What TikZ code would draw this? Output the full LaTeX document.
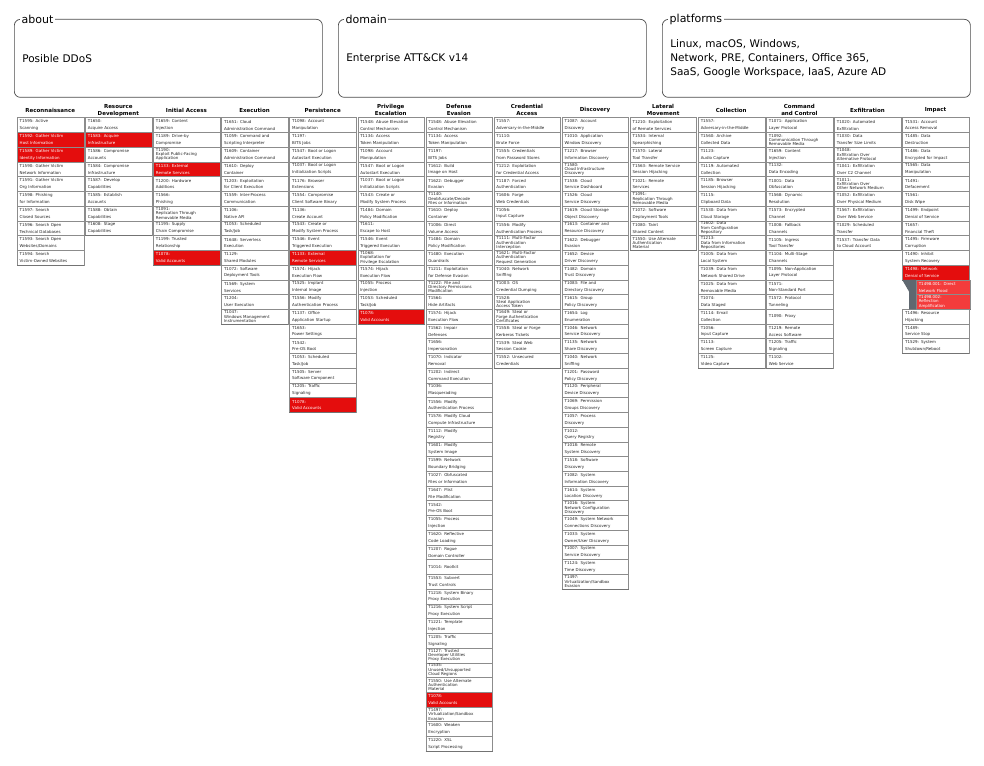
\documentclass[tikz,border=0pt]{standalone}
\usepackage{fontspec}
\setmainfont{DejaVu Sans}
\usetikzlibrary{calc}
\definecolor{attred}{RGB}{228,13,13}
\definecolor{subred}{RGB}{244,60,60}
\definecolor{sidebar}{RGB}{95,104,112}
\newcount\colc
\newcount\rowc
\tikzset{
 tcell/.style={draw=black!45, line width=0.5pt, anchor=north west, minimum height=14.73pt, text width=61.5pt, inner xsep=2.5pt, inner ysep=0pt, align=left, text=black!85, font=\fontsize{4}{6.8}\selectfont},
 cst-w/.style={fill=white},
 cst-r/.style={fill=attred, text=white},
 cst-t/.style={fill=white, font=\fontsize{4}{4.3}\selectfont},
 cst-T/.style={fill=attred, text=white, font=\fontsize{4}{4.3}\selectfont},
 cst-s/.style={fill=subred, text=white, text width=49.3pt, xshift=13.7pt},
 cst-u/.style={cst-s, font=\fontsize{4}{4.3}\selectfont},
 sepline/.style={draw=black!55, line width=1pt},
 hdr/.style={font=\bfseries\fontsize{5.5}{7}\selectfont, align=center, text=black, inner sep=0pt},
 topbox/.style={draw=black!70, line width=0.7pt, rounded corners=6pt, anchor=north west, minimum width=308pt, minimum height=78pt, text width=292pt, inner xsep=8pt, align=left, font=\fontsize{10.5}{14}\selectfont},
 toptitle/.style={fill=white, anchor=west, inner xsep=1.5pt, inner ysep=1pt, font=\fontsize{11}{13}\selectfont},
}
\newcommand\startcol[1]{%
  \global\advance\colc by 1
  \global\rowc=0
  \pgfmathsetmacro\tmpx{17+68.1*(\the\colc-1)}%
  \xdef\cx{\tmpx}%
  \pgfmathsetmacro\tmpc{\cx+33.25}%
  \edef\nm{hd\the\colc}%
  \node[hdr] (\nm) at (\tmpc,110.3) {#1};%
}
\newcommand\tc[2][w]{%
  \global\advance\rowc by 1
  \pgfmathsetmacro\cy{117.5+14.73*(\the\rowc-1)}%
  \edef\nm{t\the\colc-\the\rowc}%
  \node[tcell,cst-#1] (\nm) at (\cx,\cy) {#2};%
  \draw[sepline] (\nm.south west) -- (\nm.south east);%
}
\begin{document}
\begin{tikzpicture}[x=1pt,y=-1pt]
\useasboundingbox[fill=white] (0,0) rectangle (984,765);
% top boxes
\node[topbox] (about) at (14,19) {Posible DDoS};
\node[toptitle] (aboutt) at ([xshift=6pt]about.north west) {about};
\node[topbox] (domain) at (338,19) {Enterprise ATT\&CK v14};
\node[toptitle] (domaint) at ([xshift=6pt]domain.north west) {domain};
\node[topbox] (platf) at (662,19) {Linux, macOS, Windows,\\Network, PRE, Containers, Office 365,\\SaaS, Google Workspace, IaaS, Azure AD};
\node[toptitle] (platft) at ([xshift=6pt]platf.north west) {platforms};
% 1
\startcol{Reconnaissance}
\tc{T1595: Active\\Scanning}
\tc[r]{T1592: Gather Victim\\Host Information}
\tc[r]{T1589: Gather Victim\\Identity Information}
\tc{T1590: Gather Victim\\Network Information}
\tc{T1591: Gather Victim\\Org Information}
\tc{T1598: Phishing\\for Information}
\tc{T1597: Search\\Closed Sources}
\tc{T1596: Search Open\\Technical Databases}
\tc{T1593: Search Open\\Websites/Domains}
\tc{T1594: Search\\Victim-Owned Websites}
% 2
\startcol{Resource\\Development}
\tc{T1650:\\Acquire Access}
\tc[r]{T1583: Acquire\\Infrastructure}
\tc{T1586: Compromise\\Accounts}
\tc{T1584: Compromise\\Infrastructure}
\tc{T1587: Develop\\Capabilities}
\tc{T1585: Establish\\Accounts}
\tc{T1588: Obtain\\Capabilities}
\tc{T1608: Stage\\Capabilities}
% 3
\startcol{Initial Access}
\tc{T1659: Content\\Injection}
\tc{T1189: Drive-by\\Compromise}
\tc[t]{T1190:\\Exploit Public-Facing\\Application}
\tc[r]{T1133: External\\Remote Services}
\tc{T1200: Hardware\\Additions}
\tc{T1566:\\Phishing}
\tc[t]{T1091:\\Replication Through\\Removable Media}
\tc{T1195: Supply\\Chain Compromise}
\tc{T1199: Trusted\\Relationship}
\tc[r]{T1078:\\Valid Accounts}
% 4
\startcol{Execution}
\tc{T1651: Cloud\\Administration Command}
\tc{T1059: Command and\\Scripting Interpreter}
\tc{T1609: Container\\Administration Command}
\tc{T1610: Deploy\\Container}
\tc{T1203: Exploitation\\for Client Execution}
\tc{T1559: Inter-Process\\Communication}
\tc{T1106:\\Native API}
\tc{T1053: Scheduled\\Task/Job}
\tc{T1648: Serverless\\Execution}
\tc{T1129:\\Shared Modules}
\tc{T1072: Software\\Deployment Tools}
\tc{T1569: System\\Services}
\tc{T1204:\\User Execution}
\tc[t]{T1047:\\Windows Management\\Instrumentation}
% 5
\startcol{Persistence}
\tc{T1098: Account\\Manipulation}
\tc{T1197:\\BITS Jobs}
\tc{T1547: Boot or Logon\\Autostart Execution}
\tc{T1037: Boot or Logon\\Initialization Scripts}
\tc{T1176: Browser\\Extensions}
\tc{T1554: Compromise\\Client Software Binary}
\tc{T1136:\\Create Account}
\tc{T1543: Create or\\Modify System Process}
\tc{T1546: Event\\Triggered Execution}
\tc[r]{T1133: External\\Remote Services}
\tc{T1574: Hijack\\Execution Flow}
\tc{T1525: Implant\\Internal Image}
\tc{T1556: Modify\\Authentication Process}
\tc{T1137: Office\\Application Startup}
\tc{T1653:\\Power Settings}
\tc{T1542:\\Pre-OS Boot}
\tc{T1053: Scheduled\\Task/Job}
\tc{T1505: Server\\Software Component}
\tc{T1205: Traffic\\Signaling}
\tc[r]{T1078:\\Valid Accounts}
% 6
\startcol{Privilege\\Escalation}
\tc{T1548: Abuse Elevation\\Control Mechanism}
\tc{T1134: Access\\Token Manipulation}
\tc{T1098: Account\\Manipulation}
\tc{T1547: Boot or Logon\\Autostart Execution}
\tc{T1037: Boot or Logon\\Initialization Scripts}
\tc{T1543: Create or\\Modify System Process}
\tc{T1484: Domain\\Policy Modification}
\tc{T1611:\\Escape to Host}
\tc{T1546: Event\\Triggered Execution}
\tc[t]{T1068:\\Exploitation for\\Privilege Escalation}
\tc{T1574: Hijack\\Execution Flow}
\tc{T1055: Process\\Injection}
\tc{T1053: Scheduled\\Task/Job}
\tc[r]{T1078:\\Valid Accounts}
% 7
\startcol{Defense\\Evasion}
\tc{T1548: Abuse Elevation\\Control Mechanism}
\tc{T1134: Access\\Token Manipulation}
\tc{T1197:\\BITS Jobs}
\tc{T1612: Build\\Image on Host}
\tc{T1622: Debugger\\Evasion}
\tc[t]{T1140:\\Deobfuscate/Decode\\Files or Information}
\tc{T1610: Deploy\\Container}
\tc{T1006: Direct\\Volume Access}
\tc{T1484: Domain\\Policy Modification}
\tc{T1480: Execution\\Guardrails}
\tc{T1211: Exploitation\\for Defense Evasion}
\tc[t]{T1222: File and\\Directory Permissions\\Modification}
\tc{T1564:\\Hide Artifacts}
\tc{T1574: Hijack\\Execution Flow}
\tc{T1562: Impair\\Defenses}
\tc{T1656:\\Impersonation}
\tc{T1070: Indicator\\Removal}
\tc{T1202: Indirect\\Command Execution}
\tc{T1036:\\Masquerading}
\tc{T1556: Modify\\Authentication Process}
\tc{T1578: Modify Cloud\\Compute Infrastructure}
\tc{T1112: Modify\\Registry}
\tc{T1601: Modify\\System Image}
\tc{T1599: Network\\Boundary Bridging}
\tc{T1027: Obfuscated\\Files or Information}
\tc{T1647: Plist\\File Modification}
\tc{T1542:\\Pre-OS Boot}
\tc{T1055: Process\\Injection}
\tc{T1620: Reflective\\Code Loading}
\tc{T1207: Rogue\\Domain Controller}
\tc{T1014: Rootkit}
\tc{T1553: Subvert\\Trust Controls}
\tc{T1218: System Binary\\Proxy Execution}
\tc{T1216: System Script\\Proxy Execution}
\tc{T1221: Template\\Injection}
\tc{T1205: Traffic\\Signaling}
\tc[t]{T1127: Trusted\\Developer Utilities\\Proxy Execution}
\tc[t]{T1535:\\Unused/Unsupported\\Cloud Regions}
\tc[t]{T1550: Use Alternate\\Authentication\\Material}
\tc[r]{T1078:\\Valid Accounts}
\tc[t]{T1497:\\Virtualization/Sandbox\\Evasion}
\tc{T1600: Weaken\\Encryption}
\tc{T1220: XSL\\Script Processing}
% 8
\startcol{Credential\\Access}
\tc{T1557:\\Adversary-in-the-Middle}
\tc{T1110:\\Brute Force}
\tc{T1555: Credentials\\from Password Stores}
\tc{T1212: Exploitation\\for Credential Access}
\tc{T1187: Forced\\Authentication}
\tc{T1606: Forge\\Web Credentials}
\tc{T1056:\\Input Capture}
\tc{T1556: Modify\\Authentication Process}
\tc[t]{T1111: Multi-Factor\\Authentication\\Interception}
\tc[t]{T1621: Multi-Factor\\Authentication\\Request Generation}
\tc{T1040: Network\\Sniffing}
\tc{T1003: OS\\Credential Dumping}
\tc[t]{T1528:\\Steal Application\\Access Token}
\tc[t]{T1649: Steal or\\Forge Authentication\\Certificates}
\tc{T1558: Steal or Forge\\Kerberos Tickets}
\tc{T1539: Steal Web\\Session Cookie}
\tc{T1552: Unsecured\\Credentials}
% 9
\startcol{Discovery}
\tc{T1087: Account\\Discovery}
\tc{T1010: Application\\Window Discovery}
\tc{T1217: Browser\\Information Discovery}
\tc[t]{T1580:\\Cloud Infrastructure\\Discovery}
\tc{T1538: Cloud\\Service Dashboard}
\tc{T1526: Cloud\\Service Discovery}
\tc{T1619: Cloud Storage\\Object Discovery}
\tc{T1613: Container and\\Resource Discovery}
\tc{T1622: Debugger\\Evasion}
\tc{T1652: Device\\Driver Discovery}
\tc{T1482: Domain\\Trust Discovery}
\tc{T1083: File and\\Directory Discovery}
\tc{T1615: Group\\Policy Discovery}
\tc{T1654: Log\\Enumeration}
\tc{T1046: Network\\Service Discovery}
\tc{T1135: Network\\Share Discovery}
\tc{T1040: Network\\Sniffing}
\tc{T1201: Password\\Policy Discovery}
\tc{T1120: Peripheral\\Device Discovery}
\tc{T1069: Permission\\Groups Discovery}
\tc{T1057: Process\\Discovery}
\tc{T1012:\\Query Registry}
\tc{T1018: Remote\\System Discovery}
\tc{T1518: Software\\Discovery}
\tc{T1082: System\\Information Discovery}
\tc{T1614: System\\Location Discovery}
\tc[t]{T1016: System\\Network Configuration\\Discovery}
\tc{T1049: System Network\\Connections Discovery}
\tc{T1033: System\\Owner/User Discovery}
\tc{T1007: System\\Service Discovery}
\tc{T1124: System\\Time Discovery}
\tc[t]{T1497:\\Virtualization/Sandbox\\Evasion}
% 10
\startcol{Lateral\\Movement}
\tc{T1210: Exploitation\\of Remote Services}
\tc{T1534: Internal\\Spearphishing}
\tc{T1570: Lateral\\Tool Transfer}
\tc{T1563: Remote Service\\Session Hijacking}
\tc{T1021: Remote\\Services}
\tc[t]{T1091:\\Replication Through\\Removable Media}
\tc{T1072: Software\\Deployment Tools}
\tc{T1080: Taint\\Shared Content}
\tc[t]{T1550: Use Alternate\\Authentication\\Material}
% 11
\startcol{Collection}
\tc{T1557:\\Adversary-in-the-Middle}
\tc{T1560: Archive\\Collected Data}
\tc{T1123:\\Audio Capture}
\tc{T1119: Automated\\Collection}
\tc{T1185: Browser\\Session Hijacking}
\tc{T1115:\\Clipboard Data}
\tc{T1530: Data from\\Cloud Storage}
\tc[t]{T1602: Data\\from Configuration\\Repository}
\tc[t]{T1213:\\Data from Information\\Repositories}
\tc{T1005: Data from\\Local System}
\tc{T1039: Data from\\Network Shared Drive}
\tc{T1025: Data from\\Removable Media}
\tc{T1074:\\Data Staged}
\tc{T1114: Email\\Collection}
\tc{T1056:\\Input Capture}
\tc{T1113:\\Screen Capture}
\tc{T1125:\\Video Capture}
% 12
\startcol{Command\\and Control}
\tc{T1071: Application\\Layer Protocol}
\tc[t]{T1092:\\Communication Through\\Removable Media}
\tc{T1659: Content\\Injection}
\tc{T1132:\\Data Encoding}
\tc{T1001: Data\\Obfuscation}
\tc{T1568: Dynamic\\Resolution}
\tc{T1573: Encrypted\\Channel}
\tc{T1008: Fallback\\Channels}
\tc{T1105: Ingress\\Tool Transfer}
\tc{T1104: Multi-Stage\\Channels}
\tc{T1095: Non-Application\\Layer Protocol}
\tc{T1571:\\Non-Standard Port}
\tc{T1572: Protocol\\Tunneling}
\tc{T1090: Proxy}
\tc{T1219: Remote\\Access Software}
\tc{T1205: Traffic\\Signaling}
\tc{T1102:\\Web Service}
% 13
\startcol{Exfiltration}
\tc{T1020: Automated\\Exfiltration}
\tc{T1030: Data\\Transfer Size Limits}
\tc[t]{T1048:\\Exfiltration Over\\Alternative Protocol}
\tc{T1041: Exfiltration\\Over C2 Channel}
\tc[t]{T1011:\\Exfiltration Over\\Other Network Medium}
\tc{T1052: Exfiltration\\Over Physical Medium}
\tc{T1567: Exfiltration\\Over Web Service}
\tc{T1029: Scheduled\\Transfer}
\tc{T1537: Transfer Data\\to Cloud Account}
% 14
\startcol{Impact}
\tc{T1531: Account\\Access Removal}
\tc{T1485: Data\\Destruction}
\tc{T1486: Data\\Encrypted for Impact}
\tc{T1565: Data\\Manipulation}
\tc{T1491:\\Defacement}
\tc{T1561:\\Disk Wipe}
\tc{T1499: Endpoint\\Denial of Service}
\tc{T1657:\\Financial Theft}
\tc{T1495: Firmware\\Corruption}
\tc{T1490: Inhibit\\System Recovery}
\tc[r]{T1498: Network\\Denial of Service}
\tc[s]{T1498.001: Direct\\Network Flood}
\tc[u]{T1498.002:\\Reflection\\Amplification}
\tc{T1496: Resource\\Hijacking}
\tc{T1489:\\Service Stop}
\tc{T1529: System\\Shutdown/Reboot}
% sub-technique sidebar
\fill[sidebar] (t14-11.south west) -- (t14-12.north west) -- (t14-13.south west)
  -- ($(t14-13.south west)+(-7,0)$) -- ($(t14-12.north west)+(-7,12)$) -- cycle;
\end{tikzpicture}
\end{document}
